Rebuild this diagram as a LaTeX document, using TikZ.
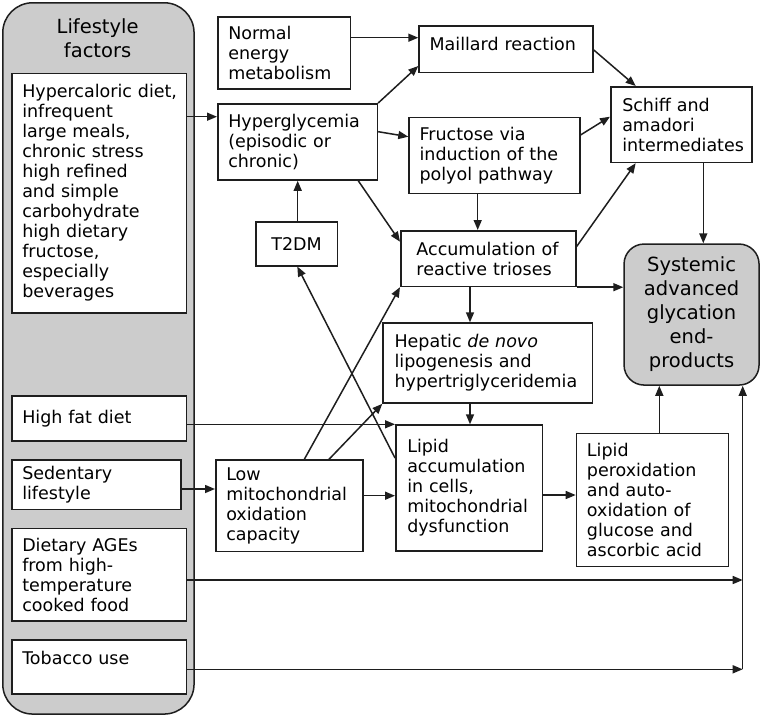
\documentclass[tikz,border=0pt]{standalone}
\usepackage{fontspec}
\setmainfont{DejaVu Sans}
\usetikzlibrary{arrows.meta}
\definecolor{lsgray}{RGB}{204,204,204}
\definecolor{linec}{RGB}{30,30,30}
\newcommand\mybody{\fontsize{17.5}{20}\selectfont}
\newcommand\mytitle{\fontsize{19.5}{24}\selectfont}
\begin{document}
\begin{tikzpicture}[x=1pt,y=-1pt,
  box/.style={draw=linec, line width=1.5pt, fill=white, anchor=north west,
    inner ysep=0pt, inner xsep=10.5pt, align=left, font=\mybody},
  roundbox/.style={draw=linec, line width=1.5pt, fill=lsgray, anchor=north west, inner sep=0pt},
  arr/.style={draw=linec, line width=1.5pt, -{Triangle[length=10pt,width=8pt]}}]
\useasboundingbox (0,0) rectangle (760,715);
% lifestyle column
\node[roundbox, rounded corners=30pt, minimum width=191.3pt, minimum height=711.3pt] (life) at (2,2) {};
\node[font=\mytitle, align=center, anchor=north, inner sep=0pt] (lifet) at (97.6,18.5) {Lifestyle\\factors};
\node[box, minimum width=174.7pt, minimum height=239.3pt, text width=153.7pt] (hyc) at (11,72.7)
  {Hypercaloric~diet,\\infrequent\\large~meals,\\chronic~stress\\high~refined\\and~simple\\carbohydrate\\high~dietary\\fructose,\\especially\\beverages};
\node[box, minimum width=174.7pt, minimum height=45.3pt, text width=153.7pt] (hfat) at (11,395) {High~fat~diet};
\node[box, minimum width=169pt, minimum height=49.7pt, text width=148pt] (sed) at (11,459) {Sedentary\\lifestyle};
\node[box, minimum width=174.7pt, minimum height=92.3pt, text width=153.7pt] (ages) at (11,527.7)
  {Dietary~AGEs\\from~high-\\temperature\\cooked~food};
\node[box, minimum width=174.7pt, text width=153.7pt, text height=24pt, text depth=30pt] (tob) at (11,639.3) {Tobacco~use};
% middle
\node[box, minimum width=132.7pt, minimum height=71.7pt, text width=111.7pt] (norm) at (217,16.3) {Normal\\energy\\metabolism};
\node[box, minimum width=159.7pt, minimum height=76.3pt, text width=138.7pt] (hyp) at (217,103) {Hyperglycemia\\(episodic~or\\chronic)};
\node[box, align=center, minimum width=81.7pt, minimum height=44pt, text width=60.7pt] (t2dm) at (255,221) {T2DM};
\node[box, minimum width=174pt, text width=153pt, text height=24.3pt, text depth=22.4pt] (mail) at (418.3,25) {Maillard~reaction};
\node[box, minimum width=170.7pt, minimum height=76pt, text width=149.7pt] (fruc) at (408.3,116.7)
  {Fructose~via\\induction~of~the\\polyol~pathway};
\node[box, minimum width=141pt, minimum height=75.7pt, text width=118pt, inner xsep=11.5pt] (schiff) at (610,86)
  {Schiff~and\\amadori\\intermediates};
\node[box, minimum width=175pt, minimum height=55.7pt, text width=143.6pt, inner xsep=15.7pt] (accum) at (400,230)
  {Accumulation~of\\reactive~trioses};
\node[roundbox, rounded corners=20pt, minimum width=135pt, minimum height=141pt, align=center, font=\mytitle] (sys) at (623.3,243.3)
  {Systemic\\advanced\\glycation\\end-\\products};
\node[box, minimum width=209.4pt, minimum height=80pt, text width=186.4pt, inner xsep=11.5pt] (hep) at (382.3,322.3)
  {Hepatic~\textit{de~novo}\\lipogenesis~and\\hypertriglyceridemia};
\node[box, minimum width=146.7pt, minimum height=125.7pt, text width=123.7pt, inner xsep=11.5pt] (lipacc) at (395,424.3)
  {Lipid\\accumulation\\in~cells,\\mitochondrial\\dysfunction};
\node[box, minimum width=147.3pt, minimum height=91.4pt, text width=126.3pt] (low) at (215,459.3)
  {Low\\mitochondrial\\oxidation\\capacity};
\node[box, minimum width=152pt, minimum height=133pt, text width=131pt] (perox) at (575.7,432.7)
  {Lipid\\peroxidation\\and~auto-\\oxidation~of\\glucose~and\\ascorbic~acid};
% connectors
\draw[arr] (hyc.east |- 0,116.7) -- (hyp.west |- 0,116.7);
\draw[arr] (t2dm.north -| 297.7,0) -- (hyp.south -| 297.7,0);
\draw[arr] (norm.east |- 0,37.7) -- (mail.west |- 0,37.7);
\draw[arr] (hyp.north east) -- (mail.west |- 0,66);
\draw[arr] (hyp.east |- 0,131.7) -- (fruc.west |- 0,136.7);
\draw[arr] (hyp.south -| 358.3,0) -- (accum.west |- 0,241.7);
\draw[arr] (mail.east |- 0,50) -- (schiff.north -| 635.7,0);
\draw[arr] (fruc.east |- 0,135) -- (schiff.west |- 0,116.7);
\draw[arr] (schiff.south -| 703.3,0) -- (sys.north -| 703.3,0);
\draw[arr] (fruc.south -| 477.7,0) -- (accum.north -| 477.7,0);
\draw[arr] (accum.east |- 0,246.7) -- (schiff.south -| 635.7,0);
\draw[arr] (accum.south east) -- (sys.west |- accum.south east);
\draw[arr] (accum.south -| 470,0) -- (hep.north -| 470,0);
\draw[arr] (hep.south -| 470,0) -- (lipacc.north -| 470,0);
\draw[arr] (hfat.east |- lipacc.north west) -- (lipacc.north west);
\draw[arr] (sed.east |- 0,489) -- (low.west |- 0,489);
\draw[arr] (low.east |- 0,495.7) -- (lipacc.west |- 0,495.7);
\draw[arr] (low.north -| 304.3,0) -- (accum.south west);
\draw[arr] (low.north -| 329,0) -- (hep.south west);
\draw[arr] (lipacc.west |- 0,458) -- (t2dm.south -| 297.3,0);
\draw[arr] (lipacc.east |- 0,495) -- (perox.west |- 0,495);
\draw[arr] (perox.north -| 659.3,0) -- (sys.south -| 659.3,0);
\coordinate (ja) at (742.7,580);
\coordinate (jt) at (742.7,669.3);
\draw[arr] (ages.east |- ja) -- (ja);
\draw[arr] (tob.east |- jt) -- (jt);
\draw[arr] (jt) -- (sys.south -| jt);
\end{tikzpicture}
\end{document}
